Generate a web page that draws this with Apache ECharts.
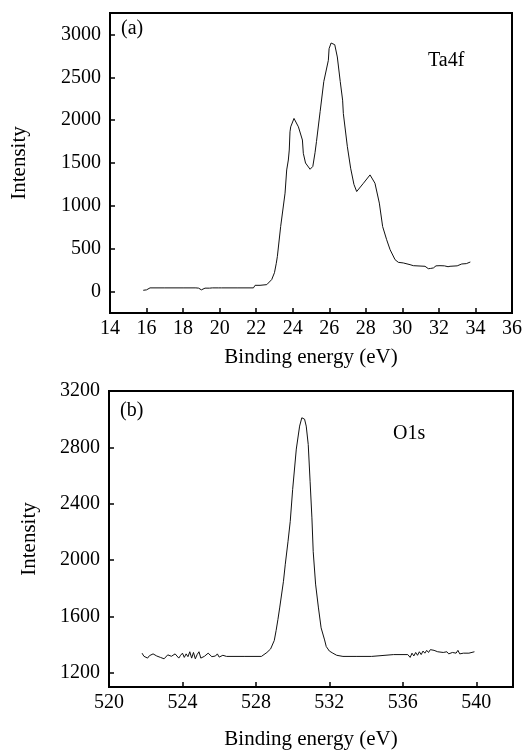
<!DOCTYPE html>
<html>
<head>
<meta charset="utf-8">
<script src="https://cdn.jsdelivr.net/npm/echarts@6/dist/echarts.min.js"></script>
<style>
  html, body { margin: 0; padding: 0; background: #fff; }
  #chart { width: 528px; height: 751px; }
</style>
</head>
<body>
<div id="chart"></div>
<script>
// Ta4f spectrum: binding energy (eV) and intensity
const ta4fEnergy = [15.82, 16.0, 16.19, 17.0, 18.0, 18.7, 18.76, 18.85, 19.0, 19.1, 19.2, 19.3, 19.45, 19.6, 19.95, 20.02, 20.1, 21.0, 21.85, 21.94, 22.21, 22.58, 22.85, 23.0, 23.1, 23.16, 23.34, 23.58, 23.67, 23.76, 23.81, 23.85, 23.89, 24.07, 24.31, 24.53, 24.58, 24.7, 24.95, 25.1, 25.22, 25.3, 25.5, 25.7, 25.95, 25.99, 26.1, 26.19, 26.3, 26.44, 26.6, 26.73, 26.77, 26.99, 27.17, 27.35, 27.5, 27.87, 28.23, 28.5, 28.74, 28.92, 29.14, 29.33, 29.6, 29.78, 30.05, 30.42, 30.6, 31.24, 31.3, 31.42, 31.5, 31.55, 31.7, 31.84, 32.06, 32.3, 32.5, 32.61, 32.7, 33.0, 33.25, 33.5, 33.6, 33.72];
const ta4fIntensity = [15, 20, 43, 43, 43, 43, 25, 40, 20, 25, 40, 30, 40, 43, 43, 20, 43, 43, 43, 73, 73, 81, 140, 220, 330, 411, 759, 1148, 1419, 1535, 1651, 1864, 1922, 2020, 1922, 1768, 1613, 1500, 1427, 1460, 1620, 1750, 2100, 2450, 2698, 2834, 2900, 2923, 2880, 2737, 2450, 2233, 2078, 1690, 1439, 1250, 1167, 1264, 1361, 1264, 1032, 759, 605, 488, 372, 341, 334, 314, 302, 295, 280, 267, 290, 270, 276, 300, 302, 300, 290, 295, 300, 300, 322, 326, 340, 345];

// O1s spectrum: binding energy (eV) and intensity
const o1sEnergy = [521.8, 521.9, 522.0, 522.1, 522.2, 522.3, 522.4, 522.5, 522.6, 522.8, 523.0, 523.2, 523.4, 523.6, 523.8, 523.9, 524.0, 524.1, 524.2, 524.3, 524.4, 524.5, 524.6, 524.7, 524.8, 524.9, 525.0, 525.2, 525.4, 525.6, 525.8, 525.9, 526.0, 526.2, 526.4, 527.4, 528.3, 528.4, 528.6, 528.8, 529.0, 529.1, 529.2, 529.3, 529.5, 529.6, 529.75, 529.87, 530.0, 530.2, 530.38, 530.5, 530.56, 530.65, 530.74, 530.85, 530.95, 531.05, 531.12, 531.25, 531.4, 531.55, 531.74, 531.83, 532.0, 532.19, 532.4, 532.74, 533.5, 534.3, 534.4, 535.5, 536.27, 536.4, 536.5, 536.6, 536.7, 536.8, 536.9, 537.0, 537.1, 537.2, 537.3, 537.4, 537.5, 537.6, 537.7, 537.8, 537.9, 538.0, 538.2, 538.4, 538.5, 538.7, 538.9, 539.0, 539.1, 539.3, 539.6, 539.9];
const o1sIntensity = [1340, 1318, 1330, 1305, 1322, 1315, 1335, 1345, 1320, 1310, 1300, 1328, 1318, 1335, 1305, 1325, 1340, 1310, 1335, 1315, 1350, 1305, 1345, 1300, 1330, 1350, 1305, 1318, 1340, 1315, 1320, 1335, 1312, 1325, 1317, 1317, 1317, 1330, 1345, 1370, 1430, 1500, 1580, 1667, 1850, 1971, 2134, 2275, 2500, 2788, 2951, 3010, 3021, 3000, 2951, 2820, 2560, 2300, 2060, 1830, 1667, 1520, 1434, 1387, 1355, 1340, 1325, 1317, 1317, 1317, 1330, 1330, 1330, 1310, 1340, 1320, 1345, 1325, 1350, 1330, 1355, 1340, 1360, 1345, 1365, 1375, 1360, 1368, 1350, 1362, 1345, 1350, 1335, 1345, 1340, 1360, 1335, 1340, 1340, 1350];

// Axis tick labels
const ta4fXTicks = [14, 16, 18, 20, 22, 24, 26, 28, 30, 32, 34, 36];
const ta4fYTicks = [0, 500, 1000, 1500, 2000, 2500, 3000];
const o1sXTicks = [520, 524, 528, 532, 536, 540];
const o1sYTicks = [1200, 1600, 2000, 2400, 2800, 3200];

const FONT = '"Liberation Serif", "Times New Roman", serif';
const zip = (xs, ys) => xs.map((x, i) => [x, ys[i]]);
const plain = v => String(v);

function xAxisFor(gridIndex, min, max, ticks, nameGap) {
  return {
    type: 'value', gridIndex, min, max,
    name: 'Binding energy (eV)', nameLocation: 'middle', nameGap,
    nameTextStyle: { fontFamily: FONT, fontSize: 21, color: '#000' },
    axisLine: { show: true, onZero: false, lineStyle: { color: '#000', width: 2 } },
    axisTick: { show: true, inside: true, length: 5, customValues: ticks, lineStyle: { color: '#000', width: 1.5 } },
    axisLabel: { customValues: ticks, formatter: plain, fontFamily: FONT, fontSize: 20, color: '#000', margin: 6 },
    splitLine: { show: false }
  };
}

function yAxisFor(gridIndex, min, max, ticks, nameGap) {
  return {
    type: 'value', gridIndex, min, max,
    name: 'Intensity', nameLocation: 'middle', nameGap,
    nameTextStyle: { fontFamily: FONT, fontSize: 21, color: '#000' },
    axisLine: { show: true, onZero: false, lineStyle: { color: '#000', width: 2 } },
    axisTick: { show: true, inside: true, length: 5, customValues: ticks, lineStyle: { color: '#000', width: 1.5 } },
    axisLabel: { customValues: ticks, formatter: plain, fontFamily: FONT, fontSize: 20, color: '#000', margin: 9 },
    splitLine: { show: false }
  };
}

function label(text, left, top) {
  return { type: 'text', left, top, style: { text, font: '20px ' + FONT, fill: '#000' } };
}

const chart = echarts.init(document.getElementById('chart'), null, { renderer: 'canvas' });
chart.setOption({
  animation: false,
  backgroundColor: '#fff',
  grid: [
    { left: 110, top: 13, width: 402, height: 300, show: true, borderColor: '#000', borderWidth: 2, backgroundColor: 'transparent' },
    { left: 109, top: 391, width: 404, height: 300, show: true, borderColor: '#000', borderWidth: 2, backgroundColor: 'transparent' }
  ],
  xAxis: [
    xAxisFor(0, 14, 36, ta4fXTicks, 34),
    xAxisFor(1, 520, 542, o1sXTicks, 42)
  ],
  yAxis: [
    yAxisFor(0, -250, 3250, ta4fYTicks, 80),
    yAxisFor(1, 1100, 3200, o1sYTicks, 69)
  ],
  series: [
    {
      type: 'line', xAxisIndex: 0, yAxisIndex: 0, data: zip(ta4fEnergy, ta4fIntensity),
      showSymbol: false, lineStyle: { color: '#111', width: 1 }
    },
    {
      type: 'line', xAxisIndex: 1, yAxisIndex: 1, data: zip(o1sEnergy, o1sIntensity),
      showSymbol: false, lineStyle: { color: '#111', width: 1 }
    }
  ],
  graphic: [
    label('(a)', 121, 19),
    label('Ta4f', 428, 51),
    label('(b)', 120, 401),
    label('O1s', 393, 424)
  ]
});
</script>
</body>
</html>
